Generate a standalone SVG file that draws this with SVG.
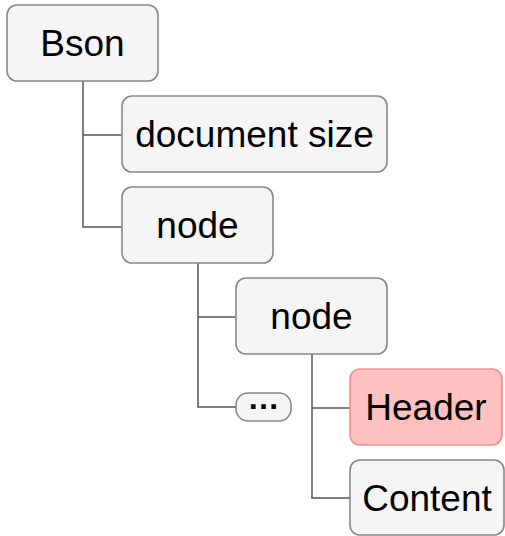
<svg xmlns="http://www.w3.org/2000/svg" width="505" height="536" viewBox="0 0 505 536">
<style>
.n rect{fill:#f5f5f5;stroke:#888;stroke-width:1.6}
.n text{font-family:"Liberation Sans",Arial,sans-serif;font-size:37px;fill:#000;text-anchor:middle}
#header rect{fill:#ffc0c0;stroke:#f08f8f}
.c{fill:none;stroke:#555;stroke-width:1.5}
</style>
<rect width="505" height="536" fill="#fff"/>
<g id="connectors" class="c">
<path d="M83 81V227H122M83 135H122"/>
<path d="M198 263V407H236M198 317H236"/>
<path d="M312 354V498H350M312 408H350"/>
</g>
<g id="bson" class="n"><rect x="7" y="5" width="151" height="76" rx="10"/><text x="82.5" y="56">Bson</text></g>
<g id="docsize" class="n"><rect x="122" y="96" width="265" height="76" rx="10"/><text x="254.5" y="147">document size</text></g>
<g id="node1" class="n"><rect x="122" y="187" width="151" height="76" rx="10"/><text x="197.5" y="238">node</text></g>
<g id="node2" class="n"><rect x="236" y="278" width="151" height="76" rx="10"/><text x="311.5" y="329">node</text></g>
<g id="ellipsis" class="n"><rect x="236" y="393" width="55" height="28" rx="12"/><text x="263.5" y="409" style="font-size:32px;font-weight:bold">…</text></g>
<g id="header" class="n"><rect x="350" y="369" width="152" height="76" rx="10"/><text x="426" y="420">Header</text></g>
<g id="content" class="n"><rect x="350" y="460" width="154" height="75" rx="10"/><text x="427" y="511">Content</text></g>
</svg>
